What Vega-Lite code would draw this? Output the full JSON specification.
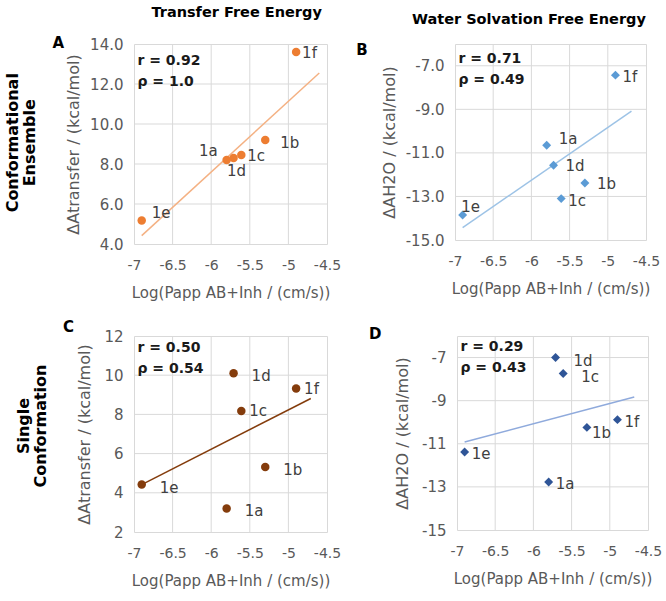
{
  "$schema": "https://vega.github.io/schema/vega-lite/v6.json",
  "padding": {"left": 5, "top": 5, "right": 5, "bottom": 5},
  "datasets": {
    "points": [
      {"panel": "A", "cmpd": "1a", "logP": -5.8, "dA": 8.2},
      {"panel": "A", "cmpd": "1b", "logP": -5.3, "dA": 9.2},
      {"panel": "A", "cmpd": "1c", "logP": -5.61, "dA": 8.45},
      {"panel": "A", "cmpd": "1d", "logP": -5.71, "dA": 8.3},
      {"panel": "A", "cmpd": "1e", "logP": -6.9, "dA": 5.17},
      {"panel": "A", "cmpd": "1f", "logP": -4.9, "dA": 13.6},
      {"panel": "B", "cmpd": "1a", "logP": -5.8, "dA": -10.65},
      {"panel": "B", "cmpd": "1b", "logP": -5.3, "dA": -12.38},
      {"panel": "B", "cmpd": "1c", "logP": -5.61, "dA": -13.1},
      {"panel": "B", "cmpd": "1d", "logP": -5.71, "dA": -11.57},
      {"panel": "B", "cmpd": "1e", "logP": -6.9, "dA": -13.85},
      {"panel": "B", "cmpd": "1f", "logP": -4.9, "dA": -7.43},
      {"panel": "C", "cmpd": "1a", "logP": -5.8, "dA": 3.2},
      {"panel": "C", "cmpd": "1b", "logP": -5.3, "dA": 5.32},
      {"panel": "C", "cmpd": "1c", "logP": -5.61, "dA": 8.17},
      {"panel": "C", "cmpd": "1d", "logP": -5.71, "dA": 10.1},
      {"panel": "C", "cmpd": "1e", "logP": -6.9, "dA": 4.42},
      {"panel": "C", "cmpd": "1f", "logP": -4.9, "dA": 9.32},
      {"panel": "D", "cmpd": "1a", "logP": -5.8, "dA": -12.77},
      {"panel": "D", "cmpd": "1b", "logP": -5.3, "dA": -10.24},
      {"panel": "D", "cmpd": "1c", "logP": -5.61, "dA": -7.74},
      {"panel": "D", "cmpd": "1d", "logP": -5.71, "dA": -7.0},
      {"panel": "D", "cmpd": "1e", "logP": -6.9, "dA": -11.38},
      {"panel": "D", "cmpd": "1f", "logP": -4.9, "dA": -9.88}
    ],
    "fits": [
      {"panel": "A", "logP": -6.9, "dA": 4.42},
      {"panel": "A", "logP": -4.6, "dA": 12.55},
      {"panel": "B", "logP": -6.9, "dA": -14.43},
      {"panel": "B", "logP": -4.69, "dA": -9.08},
      {"panel": "C", "logP": -6.9, "dA": 4.42},
      {"panel": "C", "logP": -4.71, "dA": 8.81},
      {"panel": "D", "logP": -6.9, "dA": -10.92},
      {"panel": "D", "logP": -4.68, "dA": -8.83}
    ],
    "corr": [
      {"panel": "A", "stat": "r = 0.92\nρ = 1.0"},
      {"panel": "B", "stat": "r = 0.71\nρ = 0.49"},
      {"panel": "C", "stat": "r = 0.50\nρ = 0.54"},
      {"panel": "D", "stat": "r = 0.29\nρ = 0.43"}
    ],
    "xgrid": [
      {"logP": -6.5}, {"logP": -6}, {"logP": -5.5}, {"logP": -5}
    ],
    "ygrid": [
      {"panel": "A", "dA": 6}, {"panel": "A", "dA": 8}, {"panel": "A", "dA": 10}, {"panel": "A", "dA": 12},
      {"panel": "B", "dA": -13}, {"panel": "B", "dA": -11}, {"panel": "B", "dA": -9}, {"panel": "B", "dA": -7},
      {"panel": "C", "dA": 4}, {"panel": "C", "dA": 6}, {"panel": "C", "dA": 8}, {"panel": "C", "dA": 10},
      {"panel": "D", "dA": -13}, {"panel": "D", "dA": -11}, {"panel": "D", "dA": -9}, {"panel": "D", "dA": -7}
    ]
  },
  "vconcat": [
    {
      "title": {"text": ["Conformational", "Ensemble"], "orient": "left", "anchor": "middle", "fontSize": 16, "fontWeight": "bold", "color": "#000000", "lineHeight": 17, "offset": 14, "dx": 10},
      "spacing": 13,
      "hconcat": [
        {
          "title": {"text": "Transfer Free Energy", "anchor": "middle", "fontSize": 14.5, "fontWeight": "bold", "color": "#000000", "offset": 15, "dx": 40},
          "vconcat": [
            {
              "width": 193, "height": 200,
              "title": {"text": "A", "anchor": "start", "frame": "bounds", "dx": -13, "offset": -21, "fontSize": 15, "fontWeight": "bold", "color": "#000000", "baseline": "middle"},
              "layer": [
                {"data": {"name": "xgrid"}, "mark": {"type": "rule", "color": "#d9d9d9", "strokeWidth": 1},
                 "encoding": {"x": {"field": "logP", "type": "quantitative", "title": "Log(Papp AB+Inh / (cm/s))", "scale": {"domain": [-7, -4.5], "nice": false, "zero": false}, "axis": {"values": [-7, -6.5, -6, -5.5, -5, -4.5], "labelExpr": "replace(format(datum.value, '~g'), '−', '-')"}}}},
                {"data": {"name": "ygrid"}, "transform": [{"filter": {"field": "panel", "equal": "A"}}], "mark": {"type": "rule", "color": "#d9d9d9", "strokeWidth": 1},
                 "encoding": {"y": {"field": "dA", "type": "quantitative", "title": "ΔAtransfer / (kcal/mol)", "scale": {"domain": [4, 14], "nice": false, "zero": false}, "axis": {"values": [4, 6, 8, 10, 12, 14], "format": ".1f"}}}},
                {
                  "data": {"name": "points"},
                  "encoding": {
                    "x": {"field": "logP", "type": "quantitative", "title": "Log(Papp AB+Inh / (cm/s))", "scale": {"domain": [-7, -4.5], "nice": false, "zero": false}, "axis": {"values": [-7, -6.5, -6, -5.5, -5, -4.5], "labelExpr": "replace(format(datum.value, '~g'), '−', '-')"}},
                    "y": {"field": "dA", "type": "quantitative", "title": "ΔAtransfer / (kcal/mol)", "scale": {"domain": [4, 14], "nice": false, "zero": false}, "axis": {"values": [4, 6, 8, 10, 12, 14], "format": ".1f"}}
                  },
                  "layer": [
                    {"data": {"name": "fits"}, "transform": [{"filter": {"field": "panel", "equal": "A"}}], "mark": {"type": "line", "color": "#F4B183", "strokeWidth": 1.5}},
                    {"transform": [{"filter": {"field": "panel", "equal": "A"}}], "mark": {"type": "point", "shape": "circle", "filled": true, "opacity": 1, "size": 72, "color": "#ED7D31"}},
                    {"transform": [{"filter": {"field": "panel", "equal": "A"}}, {"filter": {"field": "cmpd", "oneOf": ["1f", "1c"]}}], "mark": {"type": "text", "align": "left", "baseline": "middle", "dx": 6, "dy": 1, "fontSize": 15, "color": "#404040"}, "encoding": {"text": {"field": "cmpd"}}},
                    {"transform": [{"filter": {"field": "panel", "equal": "A"}}, {"filter": {"field": "cmpd", "oneOf": ["1b"]}}], "mark": {"type": "text", "align": "left", "baseline": "middle", "dx": 15, "dy": 3, "fontSize": 15, "color": "#404040"}, "encoding": {"text": {"field": "cmpd"}}},
                    {"transform": [{"filter": {"field": "panel", "equal": "A"}}, {"filter": {"field": "cmpd", "oneOf": ["1a"]}}], "mark": {"type": "text", "align": "right", "baseline": "middle", "dx": -9, "dy": -9, "fontSize": 15, "color": "#404040"}, "encoding": {"text": {"field": "cmpd"}}},
                    {"transform": [{"filter": {"field": "panel", "equal": "A"}}, {"filter": {"field": "cmpd", "oneOf": ["1d"]}}], "mark": {"type": "text", "align": "center", "baseline": "middle", "dx": 3, "dy": 13, "fontSize": 15, "color": "#404040"}, "encoding": {"text": {"field": "cmpd"}}},
                    {"transform": [{"filter": {"field": "panel", "equal": "A"}}, {"filter": {"field": "cmpd", "oneOf": ["1e"]}}], "mark": {"type": "text", "align": "left", "baseline": "middle", "dx": 10, "dy": -8, "fontSize": 15, "color": "#404040"}, "encoding": {"text": {"field": "cmpd"}}}
                  ]
                },
                {"data": {"name": "corr"}, "transform": [{"filter": {"field": "panel", "equal": "A"}}], "mark": {"type": "text", "align": "left", "baseline": "top", "lineBreak": "\n", "lineHeight": 21, "fontSize": 14, "fontWeight": "bold", "color": "#1a1a1a"},
                 "encoding": {
                   "x": {"datum": -6.955, "type": "quantitative", "title": "Log(Papp AB+Inh / (cm/s))", "scale": {"domain": [-7, -4.5], "nice": false, "zero": false}, "axis": {"values": [-7, -6.5, -6, -5.5, -5, -4.5], "labelExpr": "replace(format(datum.value, '~g'), '−', '-')"}},
                   "y": {"datum": 13.5, "type": "quantitative", "title": "ΔAtransfer / (kcal/mol)", "scale": {"domain": [4, 14], "nice": false, "zero": false}, "axis": {"values": [4, 6, 8, 10, 12, 14], "format": ".1f"}},
                   "text": {"field": "stat", "type": "nominal"}}}
              ]
            }
          ]
        },
        {
          "title": {"text": "Water Solvation Free Energy", "anchor": "middle", "fontSize": 14.5, "fontWeight": "bold", "color": "#000000", "offset": 15, "dx": 21},
          "vconcat": [
            {
              "width": 191, "height": 196,
              "title": {"text": "B", "anchor": "start", "frame": "bounds", "dx": -25, "offset": -21, "fontSize": 15, "fontWeight": "bold", "color": "#000000", "baseline": "middle"},
              "layer": [
                {"data": {"name": "xgrid"}, "mark": {"type": "rule", "color": "#d9d9d9", "strokeWidth": 1},
                 "encoding": {"x": {"field": "logP", "type": "quantitative", "title": "Log(Papp AB+Inh / (cm/s))", "scale": {"domain": [-7, -4.5], "nice": false, "zero": false}, "axis": {"values": [-7, -6.5, -6, -5.5, -5, -4.5], "labelExpr": "replace(format(datum.value, '~g'), '−', '-')"}}}},
                {"data": {"name": "ygrid"}, "transform": [{"filter": {"field": "panel", "equal": "B"}}], "mark": {"type": "rule", "color": "#d9d9d9", "strokeWidth": 1},
                 "encoding": {"y": {"field": "dA", "type": "quantitative", "title": "ΔAH2O / (kcal/mol)", "scale": {"domain": [-15, -6], "nice": false, "zero": false}, "axis": {"values": [-15, -13, -11, -9, -7], "labelExpr": "replace(format(datum.value, '.1f'), '−', '-')"}}}},
                {
                  "data": {"name": "points"},
                  "encoding": {
                    "x": {"field": "logP", "type": "quantitative", "title": "Log(Papp AB+Inh / (cm/s))", "scale": {"domain": [-7, -4.5], "nice": false, "zero": false}, "axis": {"values": [-7, -6.5, -6, -5.5, -5, -4.5], "labelExpr": "replace(format(datum.value, '~g'), '−', '-')"}},
                    "y": {"field": "dA", "type": "quantitative", "title": "ΔAH2O / (kcal/mol)", "scale": {"domain": [-15, -6], "nice": false, "zero": false}, "axis": {"values": [-15, -13, -11, -9, -7], "labelExpr": "replace(format(datum.value, '.1f'), '−', '-')"}}
                  },
                  "layer": [
                    {"data": {"name": "fits"}, "transform": [{"filter": {"field": "panel", "equal": "B"}}], "mark": {"type": "line", "color": "#9DC3E6", "strokeWidth": 1.5}},
                    {"transform": [{"filter": {"field": "panel", "equal": "B"}}], "mark": {"type": "point", "shape": "diamond", "filled": true, "opacity": 1, "size": 80, "color": "#5B9BD5"}},
                    {"transform": [{"filter": {"field": "panel", "equal": "B"}}, {"filter": {"field": "cmpd", "oneOf": ["1f", "1c"]}}], "mark": {"type": "text", "align": "left", "baseline": "middle", "dx": 7, "dy": 2, "fontSize": 15, "color": "#404040"}, "encoding": {"text": {"field": "cmpd"}}},
                    {"transform": [{"filter": {"field": "panel", "equal": "B"}}, {"filter": {"field": "cmpd", "oneOf": ["1a"]}}], "mark": {"type": "text", "align": "left", "baseline": "middle", "dx": 12, "dy": -6, "fontSize": 15, "color": "#404040"}, "encoding": {"text": {"field": "cmpd"}}},
                    {"transform": [{"filter": {"field": "panel", "equal": "B"}}, {"filter": {"field": "cmpd", "oneOf": ["1d", "1b"]}}], "mark": {"type": "text", "align": "left", "baseline": "middle", "dx": 12, "dy": 1, "fontSize": 15, "color": "#404040"}, "encoding": {"text": {"field": "cmpd"}}},
                    {"transform": [{"filter": {"field": "panel", "equal": "B"}}, {"filter": {"field": "cmpd", "oneOf": ["1e"]}}], "mark": {"type": "text", "align": "center", "baseline": "middle", "dx": 8, "dy": -8, "fontSize": 15, "color": "#404040"}, "encoding": {"text": {"field": "cmpd"}}}
                  ]
                },
                {"data": {"name": "corr"}, "transform": [{"filter": {"field": "panel", "equal": "B"}}], "mark": {"type": "text", "align": "left", "baseline": "top", "lineBreak": "\n", "lineHeight": 21, "fontSize": 14, "fontWeight": "bold", "color": "#1a1a1a"},
                 "encoding": {
                   "x": {"datum": -6.955, "type": "quantitative", "title": "Log(Papp AB+Inh / (cm/s))", "scale": {"domain": [-7, -4.5], "nice": false, "zero": false}, "axis": {"values": [-7, -6.5, -6, -5.5, -5, -4.5], "labelExpr": "replace(format(datum.value, '~g'), '−', '-')"}},
                   "y": {"datum": -6.37, "type": "quantitative", "title": "ΔAH2O / (kcal/mol)", "scale": {"domain": [-15, -6], "nice": false, "zero": false}, "axis": {"values": [-15, -13, -11, -9, -7], "labelExpr": "replace(format(datum.value, '.1f'), '−', '-')"}},
                   "text": {"field": "stat", "type": "nominal"}}}
              ]
            }
          ]
        }
      ]
    },
    {
      "title": {"text": ["Single", "Conformation"], "orient": "left", "anchor": "middle", "fontSize": 16, "fontWeight": "bold", "color": "#000000", "lineHeight": 17, "offset": 14, "dx": 28},
      "spacing": 26,
      "hconcat": [
        {
          "width": 193, "height": 196,
          "title": {"text": "C", "anchor": "start", "frame": "bounds", "dx": -13, "offset": -13, "fontSize": 15, "fontWeight": "bold", "color": "#000000", "baseline": "middle"},
          "layer": [
            {"data": {"name": "xgrid"}, "mark": {"type": "rule", "color": "#d9d9d9", "strokeWidth": 1},
             "encoding": {"x": {"field": "logP", "type": "quantitative", "title": "Log(Papp AB+Inh / (cm/s))", "scale": {"domain": [-7, -4.5], "nice": false, "zero": false}, "axis": {"values": [-7, -6.5, -6, -5.5, -5, -4.5], "labelExpr": "replace(format(datum.value, '~g'), '−', '-')"}}}},
            {"data": {"name": "ygrid"}, "transform": [{"filter": {"field": "panel", "equal": "C"}}], "mark": {"type": "rule", "color": "#d9d9d9", "strokeWidth": 1},
             "encoding": {"y": {"field": "dA", "type": "quantitative", "title": "ΔAtransfer / (kcal/mol)", "scale": {"domain": [2, 12], "nice": false, "zero": false}, "axis": {"values": [2, 4, 6, 8, 10, 12], "format": "d", "minExtent": 34}}}},
            {
              "data": {"name": "points"},
              "encoding": {
                "x": {"field": "logP", "type": "quantitative", "title": "Log(Papp AB+Inh / (cm/s))", "scale": {"domain": [-7, -4.5], "nice": false, "zero": false}, "axis": {"values": [-7, -6.5, -6, -5.5, -5, -4.5], "labelExpr": "replace(format(datum.value, '~g'), '−', '-')"}},
                "y": {"field": "dA", "type": "quantitative", "title": "ΔAtransfer / (kcal/mol)", "scale": {"domain": [2, 12], "nice": false, "zero": false}, "axis": {"values": [2, 4, 6, 8, 10, 12], "format": "d", "minExtent": 34}}
              },
              "layer": [
                {"data": {"name": "fits"}, "transform": [{"filter": {"field": "panel", "equal": "C"}}], "mark": {"type": "line", "color": "#843C0C", "strokeWidth": 1.5}},
                {"transform": [{"filter": {"field": "panel", "equal": "C"}}], "mark": {"type": "point", "shape": "circle", "filled": true, "opacity": 1, "size": 72, "color": "#843C0C"}},
                {"transform": [{"filter": {"field": "panel", "equal": "C"}}, {"filter": {"field": "cmpd", "oneOf": ["1d", "1b", "1e", "1a"]}}], "mark": {"type": "text", "align": "left", "baseline": "middle", "dx": 18, "dy": 3, "fontSize": 15, "color": "#404040"}, "encoding": {"text": {"field": "cmpd"}}},
                {"transform": [{"filter": {"field": "panel", "equal": "C"}}, {"filter": {"field": "cmpd", "oneOf": ["1f", "1c"]}}], "mark": {"type": "text", "align": "left", "baseline": "middle", "dx": 8, "dy": 0, "fontSize": 15, "color": "#404040"}, "encoding": {"text": {"field": "cmpd"}}}
              ]
            },
            {"data": {"name": "corr"}, "transform": [{"filter": {"field": "panel", "equal": "C"}}], "mark": {"type": "text", "align": "left", "baseline": "top", "lineBreak": "\n", "lineHeight": 21, "fontSize": 14, "fontWeight": "bold", "color": "#1a1a1a"},
             "encoding": {
               "x": {"datum": -6.955, "type": "quantitative", "title": "Log(Papp AB+Inh / (cm/s))", "scale": {"domain": [-7, -4.5], "nice": false, "zero": false}, "axis": {"values": [-7, -6.5, -6, -5.5, -5, -4.5], "labelExpr": "replace(format(datum.value, '~g'), '−', '-')"}},
               "y": {"datum": 11.72, "type": "quantitative", "title": "ΔAtransfer / (kcal/mol)", "scale": {"domain": [2, 12], "nice": false, "zero": false}, "axis": {"values": [2, 4, 6, 8, 10, 12], "format": "d", "minExtent": 34}},
               "text": {"field": "stat", "type": "nominal"}}}
          ]
        },
        {
          "width": 191, "height": 194,
          "title": {"text": "D", "anchor": "start", "frame": "bounds", "dx": -25, "offset": -13, "fontSize": 15, "fontWeight": "bold", "color": "#000000", "baseline": "middle"},
          "layer": [
            {"data": {"name": "xgrid"}, "mark": {"type": "rule", "color": "#d9d9d9", "strokeWidth": 1},
             "encoding": {"x": {"field": "logP", "type": "quantitative", "title": "Log(Papp AB+Inh / (cm/s))", "scale": {"domain": [-7, -4.5], "nice": false, "zero": false}, "axis": {"values": [-7, -6.5, -6, -5.5, -5, -4.5], "labelExpr": "replace(format(datum.value, '~g'), '−', '-')"}}}},
            {"data": {"name": "ygrid"}, "transform": [{"filter": {"field": "panel", "equal": "D"}}], "mark": {"type": "rule", "color": "#d9d9d9", "strokeWidth": 1},
             "encoding": {"y": {"field": "dA", "type": "quantitative", "title": "ΔAH2O / (kcal/mol)", "scale": {"domain": [-15, -6], "nice": false, "zero": false}, "axis": {"values": [-15, -13, -11, -9, -7], "labelExpr": "replace(format(datum.value, 'd'), '−', '-')", "minExtent": 39}}}},
            {
              "data": {"name": "points"},
              "encoding": {
                "x": {"field": "logP", "type": "quantitative", "title": "Log(Papp AB+Inh / (cm/s))", "scale": {"domain": [-7, -4.5], "nice": false, "zero": false}, "axis": {"values": [-7, -6.5, -6, -5.5, -5, -4.5], "labelExpr": "replace(format(datum.value, '~g'), '−', '-')"}},
                "y": {"field": "dA", "type": "quantitative", "title": "ΔAH2O / (kcal/mol)", "scale": {"domain": [-15, -6], "nice": false, "zero": false}, "axis": {"values": [-15, -13, -11, -9, -7], "labelExpr": "replace(format(datum.value, 'd'), '−', '-')", "minExtent": 39}}
              },
              "layer": [
                {"data": {"name": "fits"}, "transform": [{"filter": {"field": "panel", "equal": "D"}}], "mark": {"type": "line", "color": "#8FAADC", "strokeWidth": 1.5}},
                {"transform": [{"filter": {"field": "panel", "equal": "D"}}], "mark": {"type": "point", "shape": "diamond", "filled": true, "opacity": 1, "size": 80, "color": "#2F5597"}},
                {"transform": [{"filter": {"field": "panel", "equal": "D"}}, {"filter": {"field": "cmpd", "oneOf": ["1d", "1c"]}}], "mark": {"type": "text", "align": "left", "baseline": "middle", "dx": 18, "dy": 3, "fontSize": 15, "color": "#404040"}, "encoding": {"text": {"field": "cmpd"}}},
                {"transform": [{"filter": {"field": "panel", "equal": "D"}}, {"filter": {"field": "cmpd", "oneOf": ["1f", "1a", "1e"]}}], "mark": {"type": "text", "align": "left", "baseline": "middle", "dx": 7, "dy": 2, "fontSize": 15, "color": "#404040"}, "encoding": {"text": {"field": "cmpd"}}},
                {"transform": [{"filter": {"field": "panel", "equal": "D"}}, {"filter": {"field": "cmpd", "oneOf": ["1b"]}}], "mark": {"type": "text", "align": "left", "baseline": "middle", "dx": 5, "dy": 6, "fontSize": 15, "color": "#404040"}, "encoding": {"text": {"field": "cmpd"}}}
              ]
            },
            {"data": {"name": "corr"}, "transform": [{"filter": {"field": "panel", "equal": "D"}}], "mark": {"type": "text", "align": "left", "baseline": "top", "lineBreak": "\n", "lineHeight": 21, "fontSize": 14, "fontWeight": "bold", "color": "#1a1a1a"},
             "encoding": {
               "x": {"datum": -6.955, "type": "quantitative", "title": "Log(Papp AB+Inh / (cm/s))", "scale": {"domain": [-7, -4.5], "nice": false, "zero": false}, "axis": {"values": [-7, -6.5, -6, -5.5, -5, -4.5], "labelExpr": "replace(format(datum.value, '~g'), '−', '-')"}},
               "y": {"datum": -6.18, "type": "quantitative", "title": "ΔAH2O / (kcal/mol)", "scale": {"domain": [-15, -6], "nice": false, "zero": false}, "axis": {"values": [-15, -13, -11, -9, -7], "labelExpr": "replace(format(datum.value, 'd'), '−', '-')", "minExtent": 39}},
               "text": {"field": "stat", "type": "nominal"}}}
          ]
        }
      ]
    }
  ],
  "spacing": 18,
  "config": {
    "font": "DejaVu Sans",
    "view": {"stroke": "#d9d9d9", "strokeWidth": 1},
    "axis": {"grid": false, "domain": false, "ticks": false, "labelFlush": false, "labelOverlap": false, "labelColor": "#595959", "labelFontSize": 14, "titleColor": "#595959", "titleFontSize": 15, "titleFontWeight": "normal"},
    "axisX": {"labelPadding": 14, "titlePadding": 13},
    "axisY": {"labelPadding": 11, "titlePadding": 8, "labelFontSize": 15, "titleFontSize": 16}
  }
}
